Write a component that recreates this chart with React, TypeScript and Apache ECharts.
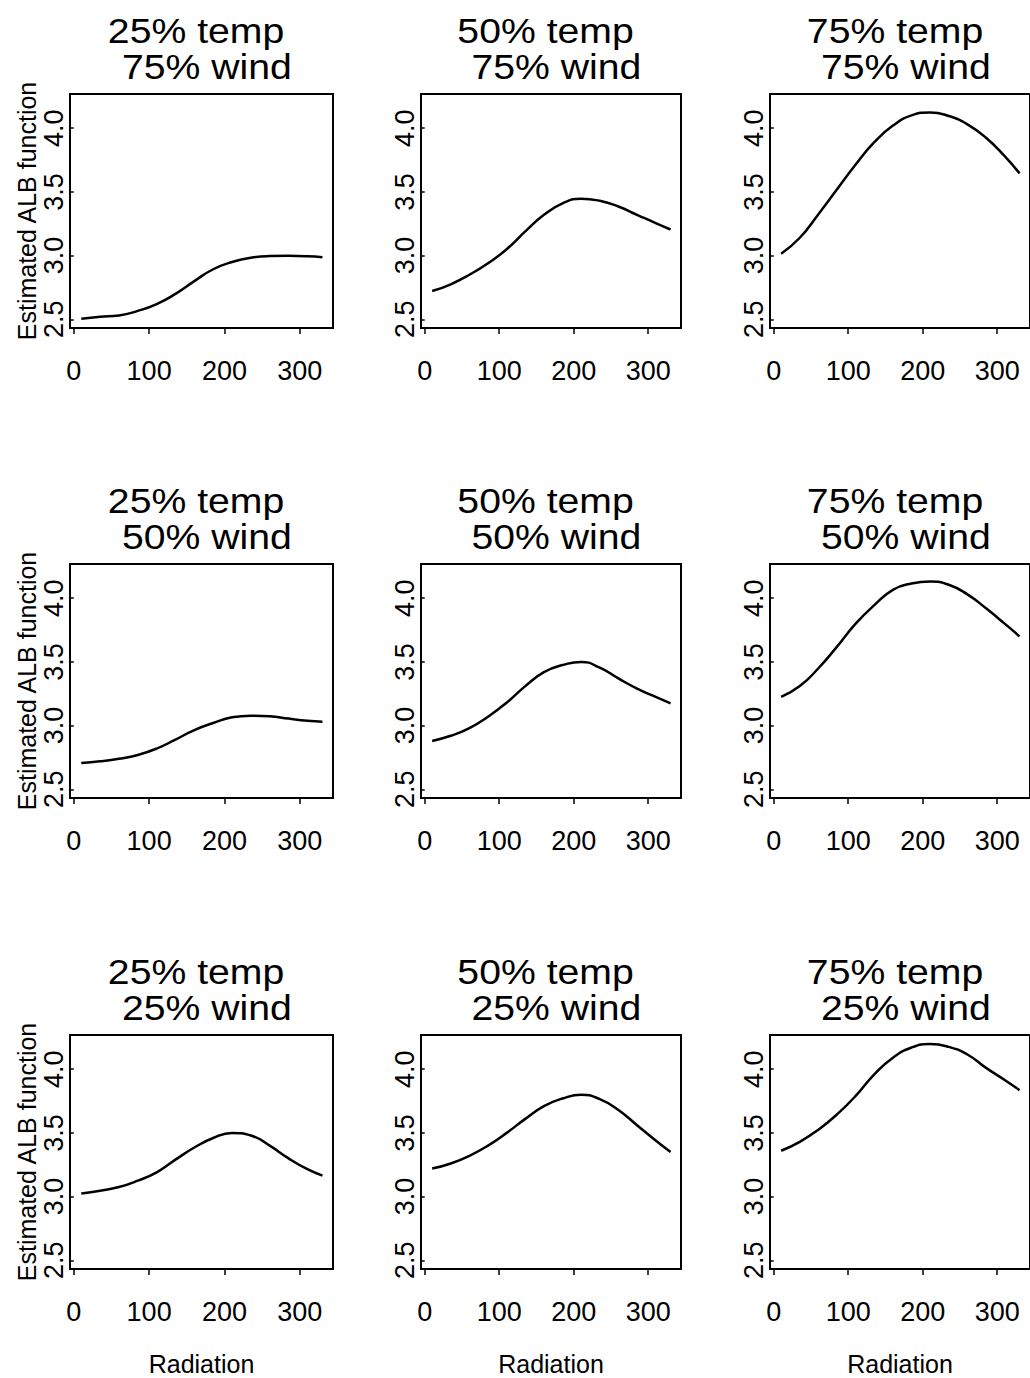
import React, { useEffect, useRef } from "react";
import * as echarts from "echarts";

// Radiation values at which each fitted curve is read
const radiation = [10, 35, 60, 85, 110, 135, 160, 185, 210, 235, 260, 285, 310, 330];

// Estimated ALB function, by temperature / wind quantile
const t25w75 = [2.505, 2.52, 2.53, 2.566, 2.62, 2.7, 2.8, 2.893, 2.95, 2.984, 2.996, 2.998, 2.995, 2.988];
const t50w75 = [2.722, 2.775, 2.85, 2.94, 3.05, 3.19, 3.32, 3.41, 3.447, 3.43, 3.385, 3.32, 3.255, 3.205];
const t75w75 = [3.015, 3.14, 3.325, 3.52, 3.715, 3.89, 4.02, 4.1, 4.123, 4.095, 4.03, 3.925, 3.78, 3.645];

const t25w50 = [2.707, 2.72, 2.74, 2.77, 2.82, 2.89, 2.965, 3.02, 3.065, 3.078, 3.074, 3.055, 3.038, 3.031];
const t50w50 = [2.88, 2.92, 2.98, 3.07, 3.18, 3.31, 3.42, 3.475, 3.5, 3.455, 3.37, 3.29, 3.225, 3.175];
const t75w50 = [3.225, 3.31, 3.45, 3.62, 3.8, 3.945, 4.065, 4.115, 4.13, 4.105, 4.03, 3.92, 3.8, 3.7];

const t25w25 = [3.025, 3.046, 3.075, 3.125, 3.19, 3.29, 3.385, 3.46, 3.5, 3.48, 3.4, 3.3, 3.215, 3.165];
const t50w25 = [3.22, 3.26, 3.32, 3.4, 3.5, 3.61, 3.71, 3.77, 3.8, 3.765, 3.68, 3.56, 3.44, 3.35];
const t75w25 = [3.36, 3.43, 3.525, 3.645, 3.79, 3.96, 4.09, 4.17, 4.198, 4.175, 4.115, 4.01, 3.915, 3.835];

const tempLevels = [25, 50, 75];
const windLevels = [75, 50, 25];
const panelValues = [
  [t25w75, t50w75, t75w75],
  [t25w50, t50w50, t75w50],
  [t25w25, t50w25, t75w25],
];

const xTicks = [0, 100, 200, 300];
const yTicks = [2.5, 3.0, 3.5, 4.0];
const xRange = [-5, 344];
const yRange = [2.432, 4.268];

const yTitle = "Estimated ALB function";
const xTitle = "Radiation";

export default function App() {
  const ref = useRef<HTMLDivElement>(null);

  useEffect(() => {
    if (!ref.current) return;
    const chart = echarts.init(ref.current, undefined, { renderer: "svg" });
    const font = "'Liberation Sans', Arial, Helvetica, sans-serif";
    const colLeft = [70, 421, 770];
    const colWidth = [263, 260, 261];
    const rowTop = [94, 564, 1035];
    const height = 234;

    const grids: any[] = [];
    const xAxes: any[] = [];
    const yAxes: any[] = [];
    const series: any[] = [];
    const graphics: any[] = [];

    for (let r = 0; r < 3; r++) {
      for (let c = 0; c < 3; c++) {
        const i = r * 3 + c;
        grids.push({
          left: colLeft[c],
          top: rowTop[r],
          width: colWidth[c],
          height,
          show: true,
          borderColor: "#000",
          borderWidth: 2,
          backgroundColor: "transparent",
        });
        xAxes.push({
          type: "value",
          gridIndex: i,
          min: xRange[0],
          max: xRange[1],
          name: r === 2 ? xTitle : "",
          nameLocation: "middle",
          nameGap: 82,
          nameTextStyle: { fontFamily: font, fontSize: 25, color: "#000" },
          axisLine: { show: false },
          axisTick: {
            show: true,
            customValues: xTicks,
            length: 6,
            lineStyle: { color: "#000", width: 1.5 },
          },
          axisLabel: {
            show: true,
            customValues: xTicks,
            margin: 29,
            fontFamily: font,
            fontSize: 27,
            color: "#000",
          },
          splitLine: { show: false },
        });
        yAxes.push({
          type: "value",
          gridIndex: i,
          min: yRange[0],
          max: yRange[1],
          name: c === 0 ? yTitle : "",
          nameLocation: "middle",
          nameGap: 30,
          nameRotate: 90,
          nameTextStyle: { fontFamily: font, fontSize: 25, color: "#000" },
          axisLine: { show: false },
          axisTick: {
            show: true,
            customValues: yTicks,
            length: 4,
            lineStyle: { color: "#000", width: 1.5 },
          },
          axisLabel: {
            show: true,
            customValues: yTicks,
            rotate: 90,
            margin: 3,
            fontFamily: font,
            fontSize: 27,
            color: "#000",
            formatter: (v: number) => v.toFixed(1),
          },
          splitLine: { show: false },
        });
        const vals = panelValues[r][c];
        series.push({
          type: "line",
          xAxisIndex: i,
          yAxisIndex: i,
          data: radiation.map((x, k) => [x, vals[k]]),
          smooth: 0.5,
          showSymbol: false,
          symbol: "none",
          lineStyle: { color: "#000", width: 2.5 },
          silent: true,
        });
        const cx = colLeft[c] + colWidth[c] / 2;
        const titleStyle = {
          fontFamily: font,
          fontSize: 35,
          fill: "#000",
          align: "center",
          verticalAlign: "middle",
        };
        graphics.push({
          type: "text",
          x: cx,
          y: rowTop[r] - 63,
          scaleX: 1.12,
          style: { ...titleStyle, text: `${tempLevels[c]}% temp\u00A0` },
        });
        graphics.push({
          type: "text",
          x: cx,
          y: rowTop[r] - 27,
          scaleX: 1.12,
          style: { ...titleStyle, text: `\u00A0${windLevels[r]}% wind` },
        });
      }
    }

    chart.setOption({
      animation: false,
      backgroundColor: "#fff",
      grid: grids,
      xAxis: xAxes,
      yAxis: yAxes,
      series,
      graphic: graphics,
    });

    return () => chart.dispose();
  }, []);

  return (
    <div
      ref={ref}
      style={{ position: "absolute", left: 0, top: 0, width: 1030, height: 1378 }}
    />
  );
}
